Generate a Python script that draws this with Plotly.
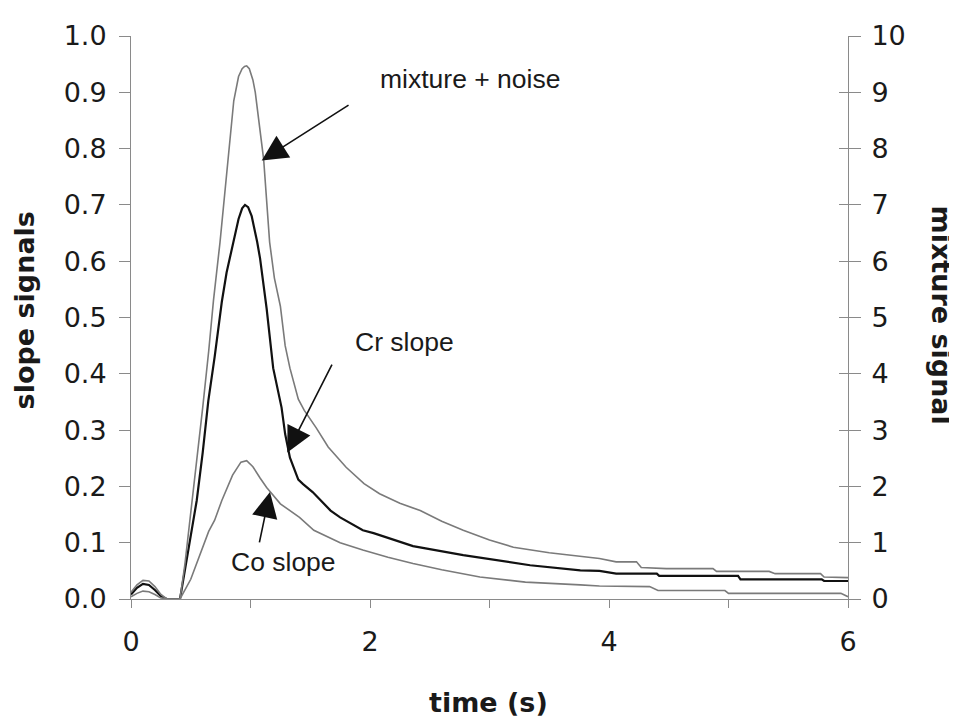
import plotly.graph_objects as go

# ---------------- data ----------------
time_mix = [0, 0.05, 0.1, 0.15, 0.2, 0.25, 0.3, 0.41, 0.45, 0.5, 0.55, 0.6, 0.65, 0.69, 0.745,
            0.78, 0.82, 0.86, 0.9, 0.93, 0.95, 0.968, 0.99, 1.02, 1.04, 1.07, 1.11, 1.16, 1.2, 1.25, 1.29,
            1.33, 1.36, 1.4, 1.45, 1.55, 1.65, 1.8, 1.95, 2.08, 2.25, 2.42, 2.6, 2.78, 3.0,
            3.2, 3.5, 3.76, 3.92, 4.06, 4.23, 4.27, 4.48, 4.87, 4.9, 5.34, 5.39, 5.77, 5.8, 6.0]
mixture_signal = [0.12, 0.25, 0.33, 0.32, 0.22, 0.08, 0.0, 0.0, 0.6, 1.5, 2.4, 3.4, 4.4, 5.3, 6.34,
                  7.1, 8.1, 8.85, 9.28, 9.42, 9.46, 9.47, 9.42, 9.22, 9.0, 8.52, 7.81, 6.34, 5.7, 5.2, 4.5,
                  4.1, 3.87, 3.55, 3.35, 3.04, 2.7, 2.34, 2.05, 1.87, 1.7, 1.57, 1.38, 1.22, 1.05,
                  0.92, 0.82, 0.75, 0.72, 0.66, 0.66, 0.56, 0.54, 0.54, 0.49, 0.49, 0.45, 0.45, 0.39, 0.38]

time_cr = [0, 0.05, 0.1, 0.15, 0.2, 0.25, 0.3, 0.41, 0.45, 0.5, 0.55, 0.6, 0.647, 0.7, 0.76,
           0.8, 0.856, 0.9, 0.93, 0.954, 0.98, 1.01, 1.056, 1.08, 1.135, 1.19, 1.26, 1.29, 1.33, 1.4, 1.44,
           1.52, 1.67, 1.75, 1.94, 2.03, 2.36, 2.78, 3.34, 3.76, 3.92, 4.06, 4.4, 4.42, 5.08,
           5.1, 5.78, 5.8, 6.0]
cr_slope = [0.008, 0.02, 0.027, 0.025, 0.016, 0.005, 0.0, 0.0, 0.05, 0.11, 0.175, 0.26, 0.352, 0.43, 0.528,
            0.58, 0.634, 0.675, 0.694, 0.70, 0.696, 0.68, 0.634, 0.605, 0.516, 0.41, 0.34, 0.293, 0.251, 0.212, 0.204,
            0.19, 0.157, 0.145, 0.122, 0.117, 0.094, 0.078, 0.060, 0.051, 0.050, 0.045, 0.045, 0.041, 0.041,
            0.035, 0.035, 0.032, 0.032]

time_co = [0, 0.05, 0.1, 0.15, 0.2, 0.25, 0.3, 0.41, 0.5, 0.59, 0.65, 0.7, 0.76, 0.85, 0.92,
           0.968, 1.02, 1.08, 1.135, 1.25, 1.41, 1.53, 1.75, 1.94, 2.15, 2.36, 2.6, 2.92, 3.3,
           3.76, 3.92, 4.34, 4.41, 4.97, 5.0, 5.94, 6.0]
co_slope = [0.004, 0.01, 0.014, 0.013, 0.008, 0.002, 0.0, 0.0, 0.035, 0.087, 0.12, 0.14, 0.175, 0.22, 0.243,
            0.2456, 0.235, 0.215, 0.198, 0.169, 0.145, 0.122, 0.10, 0.087, 0.074, 0.063, 0.052, 0.039, 0.030,
            0.025, 0.023, 0.022, 0.015, 0.015, 0.010, 0.010, 0.004]

x_ticks = [0, 2, 4, 6]
left_ticks = [0.0, 0.1, 0.2, 0.3, 0.4, 0.5, 0.6, 0.7, 0.8, 0.9, 1.0]
right_ticks = [0, 1, 2, 3, 4, 5, 6, 7, 8, 9, 10]

# labels: (text, text_x, text_y, arrow_tip_x, arrow_tip_y, arrow_tail_x, arrow_tail_y) in time / slope units
labels = [
    ("mixture + noise", 2.837, 0.924, 1.094, 0.779, 1.833, 0.879),
    ("Cr slope", 2.29, 0.456, 1.308, 0.260, 1.688, 0.419),
    ("Co slope", 1.28, 0.065, 1.163, 0.190, 1.072, 0.098),
]

# ---------------- figure ----------------
AX = "#8a8a8a"
TICKFONT = dict(family="DejaVu Sans", size=27, color="#1a1a1a")
TITLEFONT = dict(family="DejaVu Sans", size=27, color="#1a1a1a")

fig = go.Figure()
fig.add_trace(go.Scatter(x=time_mix, y=mixture_signal, yaxis="y2", mode="lines",
                         line=dict(color="#7a7a7a", width=1.6), name="mixture + noise"))
fig.add_trace(go.Scatter(x=time_cr, y=cr_slope, mode="lines",
                         line=dict(color="#111111", width=2.2), name="Cr slope"))
fig.add_trace(go.Scatter(x=time_co, y=co_slope, mode="lines",
                         line=dict(color="#7a7a7a", width=1.6), name="Co slope"))
# helper trace so the inner-tick overlay axis is drawn
fig.add_trace(go.Scatter(x=[None], y=[None], yaxis="y3", mode="lines", showlegend=False,
                         hoverinfo="skip"))

annotations = []
for text, tx, ty, hx, hy, sx, sy in labels:
    annotations.append(dict(x=tx, y=ty, xref="x", yref="y", text=text, showarrow=False,
                            font=dict(family="Liberation Sans", size=26.5, color="#1a1a1a"),
                            xanchor="center", yanchor="middle"))
    annotations.append(dict(x=hx, y=hy, xref="x", yref="y", ax=sx, ay=sy, axref="x", ayref="y",
                            text="", showarrow=True, arrowhead=2, arrowsize=3.2, arrowwidth=1.6,
                            arrowcolor="#111111", standoff=0, font=dict(size=1)))

annotations += [
    dict(text="<b>slope signals</b>", xref="paper", yref="paper", x=-0.148, y=0.5124,
         textangle=-90, showarrow=False, xanchor="center", yanchor="middle", font=TITLEFONT),
    dict(text="<b>mixture signal</b>", xref="paper", yref="paper", x=1.1297, y=0.5035,
         textangle=90, showarrow=False, xanchor="center", yanchor="middle", font=TITLEFONT),
    dict(text="<b>time (s)</b>", xref="paper", yref="paper", x=0.498, y=-0.1837,
         showarrow=False, xanchor="center", yanchor="middle", font=TITLEFONT),
]

# the page body has an 8px margin, so the figure is sized to fit the window after it
fig.update_layout(
    width=949, height=710,
    margin=dict(l=123, r=109, t=25, b=119),
    paper_bgcolor="white", plot_bgcolor="white",
    showlegend=False,
    xaxis=dict(range=[0, 6], tickvals=x_ticks, ticktext=[str(v) for v in x_ticks],
               ticks="outside", ticklen=8, tickcolor=AX, showline=True, linecolor=AX,
               linewidth=1, showgrid=False, zeroline=False, tickfont=TICKFONT,
               ticklabelstandoff=11,
               minor=dict(dtick=1, tick0=0, ticks="outside", ticklen=8, tickcolor=AX)),
    yaxis=dict(range=[0, 1], tickvals=left_ticks, tickformat=".1f",
               ticks="outside", ticklen=11, tickcolor=AX, showline=True, linecolor=AX,
               linewidth=1, showgrid=False, zeroline=False, tickfont=TICKFONT,
               ticklabelstandoff=7),
    yaxis2=dict(range=[0, 10], tickvals=right_ticks, overlaying="y", side="right", anchor="x",
                ticks="outside", ticklen=12, tickcolor=AX, showline=True, linecolor=AX,
                linewidth=1, showgrid=False, zeroline=False, tickfont=TICKFONT,
                ticklabelstandoff=5),
    yaxis3=dict(range=[0, 10], tickvals=right_ticks, overlaying="y", side="right", anchor="x",
                ticks="inside", ticklen=9, tickcolor=AX, showline=False, showgrid=False,
                zeroline=False, showticklabels=False),
    annotations=annotations,
)

fig.write_html("out.html")
